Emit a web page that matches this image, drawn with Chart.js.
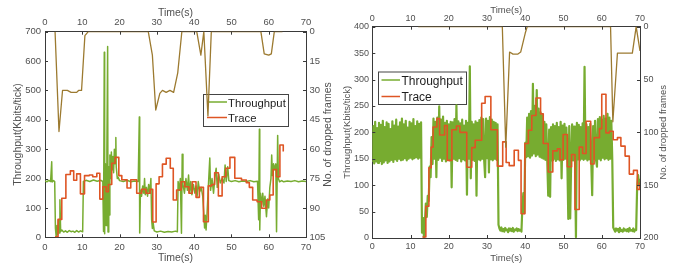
<!DOCTYPE html>
<html>
<head>
<meta charset="utf-8">
<script src="https://cdn.jsdelivr.net/npm/chart.js@4.4.0/dist/chart.umd.min.js"></script>
<style>
  html, body { margin: 0; padding: 0; background: #fff; }
  #wrap { position: relative; width: 678px; height: 264px; overflow: hidden; }
  #left, #right { position: absolute; top: 0; }
  #left { left: 0; }
  #right { left: 338px; }
</style>
</head>
<body>
<div id="wrap">
  <canvas id="left" width="340" height="264"></canvas>
  <canvas id="right" width="340" height="264"></canvas>
</div>
<script>
// tick labels
var timeTicks = [0, 10, 20, 30, 40, 50, 60, 70];
var leftRateTicks = [0, 100, 200, 300, 400, 500, 600, 700];
var leftFrameTicks = [0, 15, 30, 45, 60, 75, 90, 105];
var rightRateTicks = [0, 50, 100, 150, 200, 250, 300, 350, 400];
var rightFrameTicks = [0, 50, 100, 150, 200];

// left plot: [time s, Kbits/tick]
var leftThroughput = [
  [0,192],[0.5,189],[1,194],[1.5,190],[1.8,257],[1.9,188],[2.3,193],[2.6,190],[2.8,30],[3.0,2],
  [3.2,40],[3.4,10],[3.6,60],[3.8,15],[4.0,128],[4.2,20],[4.5,25],[5,18],[5.5,22],[6,17],
  [6.5,23],[7,19],[7.5,21],[8,17],[8.5,23],[9,18],[9.5,22],[10.1,19],[10.3,190],[11,194],
  [12,190],[13,195],[14,191],[15,194],[15.5,190],[15.7,20],[15.9,630],[16.0,12],[16.2,250],[16.4,40],
  [16.6,300],[16.8,650],[16.9,18],[17.1,240],[17.2,76],[17.4,280],[17.6,200],[17.8,290],[18.0,230],[18.2,275],
  [18.4,220],[18.6,300],[18.8,250],[19.0,340],[19.1,240],[19.4,200],[19.6,205],[20,193],[21,190],[22,194],
  [23,189],[24,192],[25,190],[25.3,410],[25.4,15],[25.6,160],[25.9,140],[26.2,175],[26.5,150],[26.7,200],
  [26.9,145],[27.2,170],[27.5,140],[27.8,180],[28.1,150],[28.4,200],[28.6,60],[28.8,30],[29.0,50],[29.3,22],
  [30,18],[31,21],[32,17],[33,20],[34,18],[35,21],[35.5,19],[35.7,190],[36.0,160],[36.3,200],
  [36.6,14],[36.8,283],[37.0,180],[37.4,150],[37.8,200],[38.2,160],[38.5,212],[38.8,150],[39.1,190],[39.4,145],
  [39.8,180],[40.2,150],[40.5,175],[40.8,140],[41.1,190],[41.5,155],[41.9,170],[42.3,140],[42.6,80],[42.8,32],
  [43.0,75],[43.2,25],[43.5,90],[43.8,170],[44.2,270],[44.4,160],[44.8,200],[45.2,150],[45.6,210],[45.9,235],
  [46.2,170],[46.6,215],[47.0,185],[47.5,200],[48.0,185],[48.3,246],[48.6,190],[49.0,240],[49.3,193],[50,190],
  [51,193],[52,189],[53,192],[54,190],[55,193],[56,189],[57,191],[57.3,60],[57.5,368],[57.6,25],
  [57.8,150],[58.1,110],[58.4,150],[58.7,105],[59.0,140],[59.4,70],[59.7,130],[60.0,100],[60.3,170],[60.6,200],
  [60.8,280],[61.0,210],[61.3,250],[61.6,230],[61.9,250],[62.1,19],[62.4,347],[62.6,200],[62.9,189],[63.5,193],
  [64,189],[65,192],[66,190],[67,193],[68,189],[69,192],[70,190]
];
// step start time, value
var leftTrace = [
  [2.7,2],[3.5,61],[4.5,133],[5.6,214],[6.8,226],[7.7,194],[8.5,216],[9.5,148],[10.6,210],[11.9,212],
  [12.8,206],[13.9,218],[14.7,130],[15.5,172],[16.4,155],[17.0,180],[17.9,252],[18.8,272],[19.8,210],[20.6,196],
  [22.0,168],[23.0,196],[24.6,150],[25.9,163],[27.1,150],[28.2,163],[28.9,52],[29.8,182],[30.6,206],[31.5,249],
  [32.5,269],[33.6,235],[34.4,127],[35.3,161],[36.5,189],[37.5,172],[38.6,150],[39.5,189],[40.5,136],[41.4,170],
  [42.5,53],[43.8,175],[44.7,180],[45.5,220],[46.5,141],[47.5,206],[48.5,235],[49.6,272],[50.9,201],[52.7,195],
  [54.0,186],[54.8,170],[55.7,127],[56.9,121],[58.1,99],[59.4,127],[60.3,144],[61.2,231],[62.1,206],[63.0,314],
  [63.9,292]
];
// dropped frames (right axis)
var leftFrames = [
  [2.7,0],[3.75,51],[4.7,30],[6,30],[7,31],[8.5,31],[9,30],[9.8,30],[10.7,2],[11.6,0],
  [27.7,0],[28.8,12],[29.7,40],[30.8,31.5],[31.5,30],[32.5,31],[33.5,30],[34.5,31],[35.6,21],[36.7,0],
  [40.7,0],[41.8,12],[42.6,0],[43.7,43],[44.6,0],[57.9,0],[58.8,11.3],[60,12],[60.7,11.3],[61.5,0],
  [63.7,0]
];

// right plot: throughput sampled every 0.25 s from 0 to 70 s
var rightStep = 0.25;
var rightThroughput = [
  144,212,141,220,145,208,142,218, 146,214,140,222,143,210,147,219,
  142,216,145,206,148,221,144,213, 149,224,146,211,150,219,147,226,
  148,215,151,222,147,209,150,220, 152,217,149,225,151,212,153,221,
  150,216,152,219,10,38,2,30,      65,40,80,70,135,115,191,140,
  226,150,220,115,228,148,249,152, 224,146,230,150,218,145,222,149,
  215,147,220,96,219,150,225,148,  251,146,221,151,217,145,224,149,
  213,147,222,82,218,150,325,113,  220,148,215,146,221,80,218,149,
  223,147,228,150,225,148,115,226, 151,222,124,229,149,224,147,220,
  150,218,148,215,25,18,14,20,     13,17,12,19,15,16,11,18,
  14,17,13,19,12,16,15,18,         13,17,14,16,12,60,85,47,
  180,153,228,155,235,152,240,156, 292,160,250,155,280,158,245,154,
  238,152,232,150,220,148,215,146, 80,205,78,210,147,215,150,212,
  146,218,149,210,147,220,113,213, 148,216,150,209,146,36,212,37,
  148,215,147,211,150,2,218,149,   214,147,210,150,217,148,324,150,
  215,147,210,149,216,146,81,212,  150,222,148,135,225,150,229,147,
  224,152,231,149,226,151,235,148, 228,150,222,149,20,16,12,18,
  14,17,11,19,13,15,12,18,         14,16,13,17,12,19,14,15,
  13,18,12,16,15,96,119,100,       112
];
var rightTrace = [
  [13.1,2],[14.0,60],[14.8,133],[15.4,172],[15.9,210],[16.9,226],[17.6,195],[18.9,213],[19.6,147],[20.8,205],
  [22.0,212],[22.9,200],[24.7,134],[26.0,171],[26.9,185],[28.6,255],[29.5,268],[31.0,205],[32.7,136],[34.1,182],
  [35.0,143],[35.8,137],[37.1,166],[38.2,147],[38.9,46],[39.9,179],[40.8,204],[41.7,232],[42.8,265],[44.0,235],
  [44.7,179],[46.0,125],[47.2,165],[48.4,169],[49.1,148],[49.9,196],[51.0,135],[52.1,158],[53.0,54],[54.1,172],
  [55.0,160],[55.9,221],[57.1,140],[58.0,190],[59.4,207],[60.0,272],[61.1,199],[62.0,202],[63.0,186],[64.1,190],
  [65.0,174],[66.1,155],[67.2,121],[68.3,128],[69.3,92],[69.9,105]
];
var rightFrames = [
  [12,0],[34.0,0],[34.9,114],[35.9,24],[36.8,26],[38.0,26],[38.8,24],[39.4,15],[40.0,6],[40.5,0],
  [62.3,0],[62.9,90],[64.1,25],[68.0,25],[69.0,0],[70,23]
];

var green = "#77ac30";
var red = "#de5524";
var brown = "#9c7a30";
var frameColor = "#3a3a3a";
var textColor = "#505050";
var fontFamily = '"Liberation Sans", Arial, Helvetica, sans-serif';
Chart.defaults.font.family = fontFamily;

function toXY(pairs) {
  return pairs.map(function (p) { return { x: p[0], y: p[1] }; });
}

var extras = {
  id: "extras",
  beforeDatasetsDraw: function (chart, args, o) {
    var ctx = chart.ctx;
    var L = o.legend;
    ctx.save();
    ctx.fillStyle = "#fff";
    ctx.fillRect(L.x, L.y, L.w, L.h);
    ctx.strokeStyle = "#444";
    ctx.lineWidth = 1;
    ctx.strokeRect(L.x + 0.5, L.y + 0.5, L.w, L.h);
    ctx.font = L.size + "px " + fontFamily;
    ctx.textAlign = "left";
    ctx.textBaseline = "middle";
    L.rows.forEach(function (r) {
      ctx.strokeStyle = r.color;
      ctx.lineWidth = 1.5;
      ctx.beginPath();
      ctx.moveTo(L.x + L.x0, r.y);
      ctx.lineTo(L.x + L.x1, r.y);
      ctx.stroke();
      ctx.fillStyle = "#1e1e1e";
      ctx.fillText(r.text, L.x + L.tx, r.y + 1.5);
    });
    ctx.restore();
  },
  afterDraw: function (chart, args, o) {
    var ctx = chart.ctx, a = chart.chartArea;
    ctx.save();
    // inward tick marks
    ctx.strokeStyle = frameColor;
    ctx.lineWidth = 1;
    ["x", "x2", "y", "y2"].forEach(function (id) {
      var s = chart.scales[id];
      s.ticks.forEach(function (t) {
        var p = Math.round(s.getPixelForValue(t.value)) + 0.5;
        ctx.beginPath();
        if (id === "x") { ctx.moveTo(p, a.bottom); ctx.lineTo(p, a.bottom - 3); }
        if (id === "x2") { ctx.moveTo(p, a.top); ctx.lineTo(p, a.top + 3); }
        if (id === "y") { ctx.moveTo(a.left, p); ctx.lineTo(a.left + 3, p); }
        if (id === "y2") { ctx.moveTo(a.right, p); ctx.lineTo(a.right - 3, p); }
        ctx.stroke();
      });
    });
    // right axis title, reading bottom to top
    ctx.fillStyle = textColor;
    ctx.font = o.titleSize + "px " + fontFamily;
    ctx.textAlign = "center";
    ctx.textBaseline = "middle";
    ctx.translate(o.rightTitleX, (a.top + a.bottom) / 2);
    ctx.rotate(-Math.PI / 2);
    ctx.fillText("No. of dropped frames", 0, 0);
    ctx.restore();
  }
};

function fixedTicks(list) {
  return function (s) { s.ticks = list.map(function (v) { return { value: v }; }); };
}

function makeChart(id, c) {
  var tickFont = { size: c.tickSize };
  var titleFont = { size: c.titleSize };
  var border = { display: true, color: frameColor, width: 1 };
  var grid = { display: false, drawTicks: false };
  return new Chart(document.getElementById(id), {
    type: "line",
    data: {
      datasets: [
        { label: "Dropped frames", data: toXY(c.frames), borderColor: brown, borderWidth: 1.3, xAxisID: "x", yAxisID: "y2" },
        { label: "Trace", data: toXY(c.trace), borderColor: red, borderWidth: 1.6, stepped: true, xAxisID: "x", yAxisID: "y" },
        { label: "Throughput", data: c.throughput, borderColor: green, borderWidth: c.thrWidth, xAxisID: "x", yAxisID: "y" }
      ]
    },
    options: {
      responsive: false,
      animation: false,
      events: [],
      layout: { padding: 0 },
      elements: { point: { radius: 0 }, line: { tension: 0, borderJoinStyle: "round" } },
      plugins: {
        legend: { display: false },
        tooltip: { enabled: false },
        extras: { legend: c.legend, rightTitleX: c.rightTitleX, titleSize: c.titleSize }
      },
      scales: {
        x: {
          type: "linear", position: "bottom", min: 0, max: 70,
          afterBuildTicks: fixedTicks(timeTicks),
          ticks: { font: tickFont, color: textColor, padding: c.bottomPad, maxRotation: 0 },
          grid: grid, border: border,
          title: { display: true, text: "Time(s)", font: titleFont, color: textColor, padding: { top: 0, bottom: 0 } },
          afterFit: function (s) { s.height = c.bottomH; }
        },
        x2: {
          type: "linear", position: "top", min: 0, max: 70,
          afterBuildTicks: fixedTicks(timeTicks),
          ticks: { font: tickFont, color: textColor, padding: c.topPad, maxRotation: 0 },
          grid: grid, border: border,
          title: { display: true, text: "Time(s)", font: titleFont, color: textColor, padding: { top: c.topTitlePad, bottom: 0 } },
          afterFit: function (s) { s.height = c.topH; }
        },
        y: {
          type: "linear", position: "left", min: 0, max: c.rateTicks[c.rateTicks.length - 1],
          afterBuildTicks: fixedTicks(c.rateTicks),
          ticks: { font: tickFont, color: textColor, padding: c.leftPad },
          grid: grid, border: border,
          title: { display: true, text: "Throughput(Kbits/tick)", font: titleFont, color: textColor, padding: { top: c.leftTitlePad, bottom: 0 } },
          afterFit: function (s) { s.width = c.leftW; }
        },
        y2: {
          type: "linear", position: "right", reverse: true, min: 0, max: c.frameTicks[c.frameTicks.length - 1],
          afterBuildTicks: fixedTicks(c.frameTicks),
          ticks: { font: tickFont, color: textColor, padding: c.rightPad },
          grid: grid, border: border,
          afterFit: function (s) { s.width = c.rightW; }
        }
      }
    },
    plugins: [extras]
  });
}

makeChart("left", {
  throughput: toXY(leftThroughput), trace: leftTrace, frames: leftFrames, thrWidth: 1.5,
  rateTicks: leftRateTicks, frameTicks: leftFrameTicks,
  tickSize: 9.5, titleSize: 10.5,
  leftW: 45, rightW: 34, topH: 31.7, bottomH: 26.7,
  topPad: 3.5, bottomPad: 4, leftPad: 4, rightPad: 3.5,
  topTitlePad: 7, leftTitlePad: 12, rightTitleX: 328,
  legend: { x: 203, y: 94, w: 85, h: 32, size: 11.3, x0: 4, x1: 24, tx: 25,
    rows: [{ text: "Throughput", color: green, y: 102 }, { text: "Trace", color: red, y: 117.5 }] }
});

makeChart("right", {
  throughput: rightThroughput.map(function (v, i) { return { x: i * rightStep, y: v }; }),
  trace: rightTrace, frames: rightFrames, thrWidth: 2.2,
  rateTicks: rightRateTicks, frameTicks: rightFrameTicks,
  tickSize: 9, titleSize: 9.5,
  leftW: 34.3, rightW: 38, topH: 26.7, bottomH: 26,
  topPad: 3, bottomPad: 3.6, leftPad: 3.3, rightPad: 3.5,
  topTitlePad: 4.3, leftTitlePad: 3.3, rightTitleX: 325,
  legend: { x: 40, y: 71.5, w: 88, h: 32.5, size: 12, x0: 3.5, x1: 22, tx: 23.5,
    rows: [{ text: "Throughput", color: green, y: 80 }, { text: "Trace", color: red, y: 96.5 }] }
});
</script>
</body>
</html>
